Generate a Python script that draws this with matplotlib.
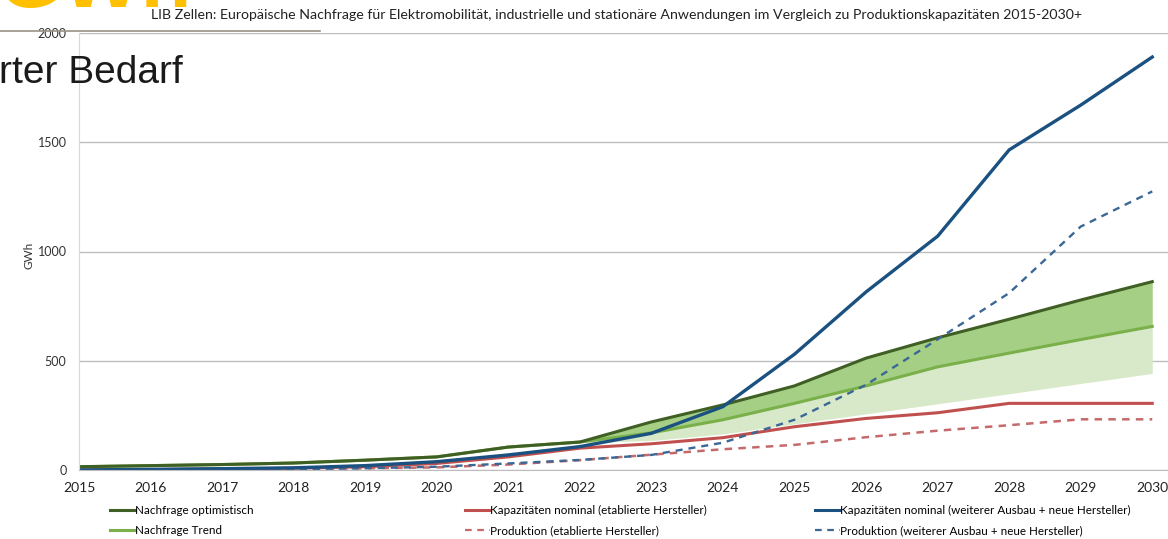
import matplotlib.pyplot as plt
from matplotlib.lines import Line2D

plt.rcParams['font.family'] = ['Lato', 'DejaVu Sans']

# values in GWh per year
years = [2015, 2016, 2017, 2018, 2019, 2020, 2021, 2022,
         2023, 2024, 2025, 2026, 2027, 2028, 2029, 2030]
nachfrage_opt = [15, 20, 25, 32, 45, 60, 105, 128, 220, 298, 385, 512, 605, 690, 778, 862]
nachfrage_trend = [15, 20, 25, 32, 45, 60, 105, 128, 170, 230, 305, 385, 472, 535, 597, 657]
nachfrage_min = [15, 20, 25, 32, 45, 60, 105, 125, 135, 165, 211, 257, 303, 349, 396, 442]
kap_etabliert = [0, 2, 5, 8, 15, 30, 60, 100, 120, 148, 198, 236, 262, 305, 305, 305]
prod_etabliert = [0, 0, 2, 4, 8, 12, 25, 45, 70, 95, 115, 150, 180, 205, 232, 232]
kap_neu = [0, 3, 6, 10, 20, 38, 69, 107, 168, 290, 530, 815, 1070, 1465, 1670, 1890]
prod_neu = [0, 0, 2, 4, 8, 15, 30, 46, 69, 125, 230, 390, 598, 810, 1114, 1275]

title = ("LIB Zellen: Europäische Nachfrage für Elektromobilität, industrielle und "
         "stationäre Anwendungen im Vergleich zu Produktionskapazitäten 2015-2030+")

c_dark = '#3f5f24'
c_light = '#79b04a'
c_blue = '#1a5180'
c_blue_d = '#3a6794'
c_red = '#c0504d'
c_red_d = '#c46a6a'

fig = plt.figure(figsize=(11.68, 5.39), dpi=100)
ax = fig.add_axes([79 / 1168, 69 / 539, 1 - 79 / 1168, 437 / 539])

# demand corridor
ax.fill_between(years, nachfrage_min, nachfrage_trend, color='#d7e9c9', lw=0)
ax.fill_between(years, nachfrage_trend, nachfrage_opt, color='#a6cf86', lw=0)

ax.plot(years, prod_etabliert, color=c_red_d, lw=1.8, ls=(0, (3, 2.5)))
ax.plot(years, kap_etabliert, color=c_red, lw=2.2)
ax.plot(years, nachfrage_trend, color=c_light, lw=2.2)
ax.plot(years, nachfrage_opt, color=c_dark, lw=2.2)
ax.plot(years, prod_neu, color=c_blue_d, lw=1.7, ls=(0, (3, 2.5)))
ax.plot(years, kap_neu, color=c_blue, lw=2.4)

ax.set_xlim(2015, 2030.22)
ax.set_ylim(0, 2000)
ax.set_xticks(years)
ax.set_xticklabels([str(y) for y in years], fontsize=10, color='#222222')
ax.set_yticks([0, 500, 1000, 1500, 2000])
ax.set_yticklabels(['0', '500', '1000', '1500', '2000'], fontsize=9, color='#333333')
ax.tick_params(axis='x', length=0, pad=9)
ax.tick_params(axis='y', length=0, pad=9)
ax.grid(axis='y', color='#bdbdbd', lw=1)
ax.set_axisbelow(True)
for s in ['top', 'right']:
    ax.spines[s].set_visible(False)
ax.spines['left'].set_color('#d8d8d8')
ax.spines['bottom'].set_color('#bdbdbd')
ax.set_ylabel('GWh', fontsize=8.5, color='#333333')
ax.yaxis.set_label_coords(-0.041, 0.49)

fig.text(617 / 1168, 1 - 15 / 539, title, fontsize=10.2, ha='center', va='center',
         color='#222222')

# legend in three columns
groups = [
    (110, [(c_dark, '-', 'Nachfrage optimistisch'), (c_light, '-', 'Nachfrage Trend')]),
    (465, [(c_red, '-', 'Kapazitäten nominal (etablierte Hersteller)'),
           (c_red_d, '--', 'Produktion (etablierte Hersteller)')]),
    (815, [(c_blue, '-', 'Kapazitäten nominal (weiterer Ausbau + neue Hersteller)'),
           (c_blue_d, '--', 'Produktion (weiterer Ausbau + neue Hersteller)')]),
]
for x0, items in groups:
    handles = [Line2D([], [], color=c, ls=ls, lw=2.2 if ls == '-' else 1.6,
                      dashes=(3, 2.5) if ls == '--' else (None, None))
               for c, ls, _ in items]
    labels = [t for _, _, t in items]
    fig.legend(handles, labels, loc='upper left', bbox_to_anchor=(x0 / 1168, 1 - 505 / 539),
               frameon=False, fontsize=8.4, handlelength=2.1, handletextpad=0.05,
               labelspacing=0.75, borderaxespad=0, borderpad=0)

# slide overlay elements
fig.add_artist(Line2D([0, 320 / 1168], [1 - 31 / 539] * 2, color='#9a9384', lw=1.2))
fig.text(183 / 1168, 1 - 73 / 539, 'rter Bedarf', fontsize=28, ha='right', va='center',
         family='Liberation Sans', color='#1a1a1a')
fig.text(-2 / 1168, 1 - 7 / 539, 'GWh', fontsize=60, ha='left', va='baseline',
         weight='bold', family='Liberation Sans', color='#ffc000')

fig.savefig('out.png', dpi=100)
